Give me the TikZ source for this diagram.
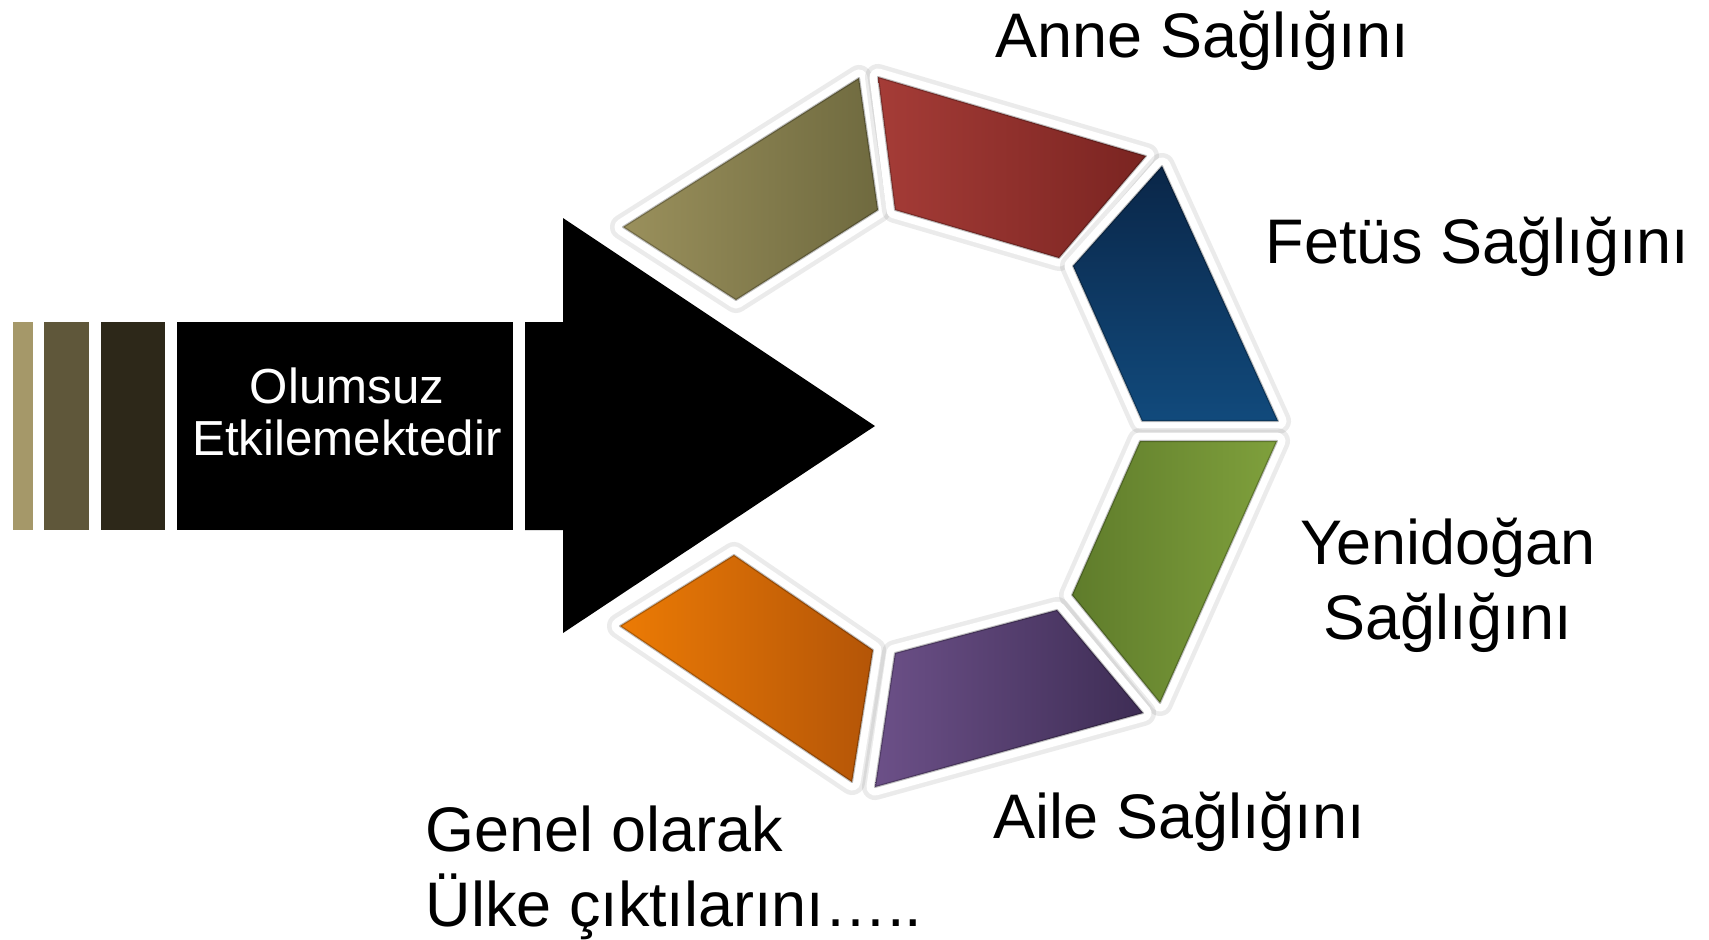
\documentclass[tikz,border=0pt]{standalone}
\usepackage{fontspec}
\setmainfont{Liberation Sans}
\usetikzlibrary{calc}

\definecolor{barA}{HTML}{A59869}
\definecolor{barB}{HTML}{5F573A}
\definecolor{barC}{HTML}{2D2819}
\definecolor{oliveL}{HTML}{9A905C}
\definecolor{oliveR}{HTML}{6F6A3F}
\definecolor{redL}{HTML}{A53C37}
\definecolor{redR}{HTML}{7A2421}
\definecolor{blueT}{HTML}{0A2648}
\definecolor{blueB}{HTML}{114A7C}
\definecolor{greenL}{HTML}{5F7C2B}
\definecolor{greenR}{HTML}{7FA03C}
\definecolor{purpL}{HTML}{6C5088}
\definecolor{purpR}{HTML}{3E2D55}
\definecolor{orngL}{HTML}{EC7B05}
\definecolor{orngR}{HTML}{B45507}

\begin{document}
\begin{tikzpicture}[x=0.01cm,y=-0.01cm,
    seg/.style={line join=round,
        preaction={draw=black,draw opacity=.08,line width=2.6mm,line join=round},
        preaction={draw=white,fill=white,line width=1.7mm,line join=round},
        draw=black,draw opacity=.25,line width=.6pt},
    lbl/.style={inner sep=0pt,font=\fontsize{17.9}{21.3}\selectfont},
    wl/.style={inner sep=0pt,text=white,align=center,font=\fontsize{14}{14.6}\selectfont}]
    \useasboundingbox (0,0) rectangle (1709,939);

    % bars and arrow
    \fill[barA] (13,322) rectangle (33,530);
    \fill[barB] (44,322) rectangle (89,530);
    \fill[barC] (101,322) rectangle (165,530);
    \fill[black] (177,322) rectangle (513,530);
    \fill[black] (525,322) -- (563,322) -- (563,218) -- (875,426) -- (563,633)
        -- (563,530) -- (525,530) -- cycle;
    \node[wl] (olumsuz) at (347,412) {Olumsuz\\Etkilemektedir};

    % ring
    \shade[seg,left color=oliveL,right color=oliveR] (623,227) -- (859,78) -- (878,210) -- (736,300) -- cycle;
    \shade[seg,left color=redL,right color=redR] (878,77) -- (1146,156) -- (1059,258) -- (895,210) -- cycle;
    \shade[seg,top color=blueT,bottom color=blueB] (1162,166) -- (1278,421) -- (1142,421) -- (1073,266) -- cycle;
    \shade[seg,left color=greenL,right color=greenR] (1277,441) -- (1160,703) -- (1072,595) -- (1140,441) -- cycle;
    \shade[seg,left color=purpL,right color=purpR] (1143,713) -- (875,787) -- (895,653) -- (1057,610) -- cycle;
    \shade[seg,left color=orngL,right color=orngR] (852,782) -- (620,626) -- (734,555) -- (873,650) -- cycle;

    % labels
    \node[lbl,anchor=base west] (anne) at (995,57) {Anne Sağlığını};
    \node[lbl,anchor=base west] (fetus) at (1265,263) {Fetüs Sağlığını};
    \node[lbl,align=center,anchor=north] (yeni) at (1448,517) {Yenidoğan\\Sağlığını};
    \node[lbl,anchor=base west] (aile) at (993,838) {Aile Sağlığını};
    \node[lbl,align=left,anchor=north west] (genel) at (425,805) {Genel olarak\\Ülke çıktılarını…..};
\end{tikzpicture}
\end{document}
